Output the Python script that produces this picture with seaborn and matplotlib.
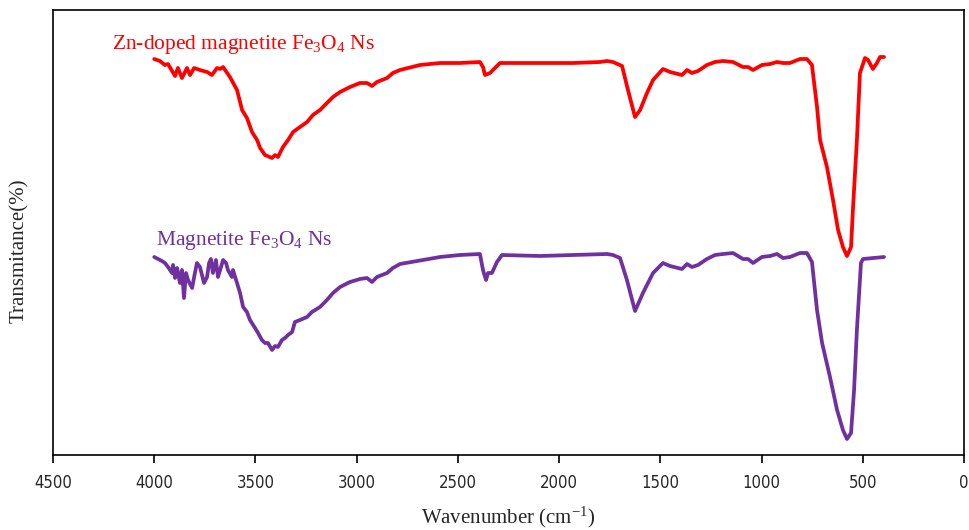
import matplotlib
matplotlib.use("Agg")
import matplotlib.pyplot as plt
import seaborn as sns
import pandas as pd
from matplotlib import font_manager

# ---- data (wavenumber cm^-1, transmittance a.u.) ----
zn_wn = [4000, 3972, 3947, 3932, 3897, 3883, 3863, 3838, 3823, 3803, 3774, 3739, 3715,
         3690, 3675, 3660, 3626, 3591, 3566, 3542, 3517, 3492, 3477, 3453, 3418, 3403,
         3389, 3364, 3339, 3314, 3280, 3245, 3216, 3181, 3147, 3117, 3082, 3033, 2984,
         2949, 2924, 2900, 2850, 2821, 2786, 2687, 2588, 2490, 2391, 2376, 2366, 2341,
         2327, 2292, 2094, 1931, 1798, 1763, 1734, 1689, 1660, 1625, 1600, 1566, 1536,
         1487, 1452, 1393, 1368, 1344, 1314, 1270, 1230, 1190, 1141, 1092, 1067, 1042,
         998, 958, 924, 894, 860, 810, 776, 751, 726, 711, 677, 647, 622, 598, 578, 558,
         548, 529, 514, 489, 474, 450, 430, 415, 395]
zn_t = [396, 394, 390, 391, 379, 387, 377, 387, 380, 387, 385, 383, 380,
        387, 386, 388, 378, 365, 345, 337, 323, 315, 307, 300, 297, 300,
        298, 308, 315, 323, 328, 333, 340, 345, 352, 358, 363, 368, 372,
        372, 369, 373, 377, 382, 385, 390, 392, 392, 393, 388, 380, 382,
        385, 392, 392, 392, 393, 394, 393, 389, 365, 338, 345, 362, 375,
        386, 383, 380, 385, 382, 384, 390, 393, 394, 393, 388, 388, 385,
        390, 391, 393, 392, 392, 396, 396, 390, 348, 315, 288, 255, 225, 208, 199, 208,
        248, 315, 382, 397, 395, 386, 392, 398, 398]

mag_wn = [4000, 3962, 3947, 3932, 3912, 3907, 3897, 3887, 3873, 3863, 3853, 3843, 3833,
          3813, 3799, 3789, 3774, 3754, 3739, 3729, 3720, 3710, 3695, 3685, 3670, 3660,
          3645, 3636, 3616, 3611, 3591, 3576, 3561, 3542, 3527, 3502, 3487, 3468, 3453,
          3438, 3418, 3403, 3389, 3369, 3354, 3339, 3319, 3305, 3280, 3245, 3221, 3181,
          3147, 3117, 3082, 3033, 2984, 2949, 2924, 2900, 2850, 2821, 2786, 2588, 2490,
          2391, 2376, 2361, 2351, 2332, 2307, 2282, 2094, 1931, 1763, 1734, 1699, 1665,
          1625, 1586, 1536, 1487, 1452, 1393, 1368, 1344, 1314, 1270, 1230, 1190, 1141,
          1092, 1067, 1042, 998, 958, 924, 894, 860, 810, 776, 751, 726, 701, 662, 627,
          598, 578, 558, 543, 529, 509, 499, 395]
mag_t = [198, 194, 192, 188, 182, 190, 177, 187, 172, 185, 157, 182, 175,
         167, 182, 192, 188, 172, 178, 192, 196, 182, 195, 178, 188, 195,
         192, 185, 178, 185, 172, 162, 148, 143, 135, 127, 122, 115, 112,
         112, 105, 109, 108, 115, 117, 120, 123, 133, 135, 138, 143, 148,
         155, 162, 168, 173, 176, 177, 173, 178, 182, 187, 191, 198, 200,
         201, 185, 175, 182, 182, 193, 200, 199, 200, 201, 200, 197, 175,
         144, 162, 182, 192, 189, 186, 191, 188, 190, 196, 200, 201, 202,
         196, 196, 192, 198, 199, 201, 197, 198, 202, 202, 193, 145, 112, 78, 45,
         25, 16, 22, 65, 125, 192, 196, 198]

x_ticks = [4500, 4000, 3500, 3000, 2500, 2000, 1500, 1000, 500, 0]
zn_label = "Zn-doped magnetite Fe$_3$O$_4$ Ns"
mag_label = "Magnetite Fe$_3$O$_4$ Ns"

df = pd.concat([
    pd.DataFrame({"wn": zn_wn, "T": zn_t, "sample": "Zn"}),
    pd.DataFrame({"wn": mag_wn, "T": mag_t, "sample": "Mag"}),
])

sns.set_theme(style="white")
serif = "Liberation Serif"
plt.rcParams["font.family"] = [serif, "DejaVu Serif"]
plt.rcParams["mathtext.fontset"] = "custom"
plt.rcParams["mathtext.rm"] = serif
plt.rcParams["mathtext.it"] = serif + ":italic"

fig = plt.figure(figsize=(9.69, 5.30), dpi=100)
ax = fig.add_axes([53/969, 75/530, 911/969, 445/530])

sns.lineplot(data=df, x="wn", y="T", hue="sample", sort=False, estimator=None,
             palette={"Zn": "#FF0000", "Mag": "#7030A0"}, linewidth=2.7,
             legend=False, ax=ax)

ax.set_xlim(4500, 0)
ax.set_ylim(0, 445)
ax.set_xticks(x_ticks)
names = {f.name for f in font_manager.fontManager.ttflist}
if "Liberation Sans Narrow" in names:
    tick_kw = dict(family="Liberation Sans Narrow", fontsize=12)
else:
    tick_kw = dict(family="DejaVu Sans", fontstretch="condensed", fontsize=12)
ax.set_xticklabels([str(t) for t in x_ticks], **tick_kw)
ax.set_yticks([])
ax.tick_params(axis="x", direction="out", length=6, width=1.2, color="black",
               bottom=True, pad=8)
for s in ax.spines.values():
    s.set_color("black")
    s.set_linewidth(1.2)

ax.set_xlabel("Wavenumber (cm$^{-1}$)", fontsize=15, labelpad=9)
ax.set_ylabel("Transmitance(%)", fontsize=15)
ax.yaxis.set_label_coords(-0.026, 0.46)

ax.text(4210, 410, zn_label, color="#FF0000", fontsize=15.5, va="center", ha="left")
ax.text(3990, 215, mag_label, color="#7030A0", fontsize=15.5, va="center", ha="left")

fig.savefig("out.png", dpi=100, facecolor="white")
